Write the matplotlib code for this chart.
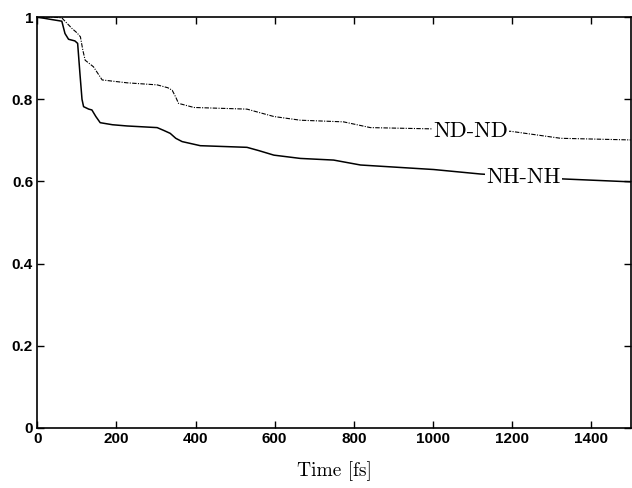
import matplotlib.pyplot as plt
import numpy as np

# NH-NH (solid)
t_nh = [0, 30, 62, 70, 79, 95, 102, 108, 113, 117, 130, 138, 148, 159, 190, 227,
        303, 320, 336, 350, 366, 412, 530, 560, 598, 665, 749, 817, 1002, 1121,
        1331, 1500]
v_nh = [1.0, 0.995, 0.99, 0.96, 0.946, 0.942, 0.936, 0.86, 0.80, 0.782, 0.776,
        0.774, 0.758, 0.743, 0.738, 0.735, 0.731, 0.724, 0.717, 0.705, 0.697,
        0.687, 0.683, 0.675, 0.664, 0.656, 0.652, 0.640, 0.629, 0.618, 0.606,
        0.599]

# ND-ND (dash-dot)
t_nd = [0, 40, 62, 75, 88, 100, 109, 115, 121, 142, 164, 227, 303, 330, 341,
        350, 357, 396, 530, 560, 598, 665, 774, 842, 994, 1197, 1323, 1500]
v_nd = [1.0, 1.0, 0.998, 0.985, 0.972, 0.962, 0.952, 0.92, 0.895, 0.879, 0.847,
        0.840, 0.835, 0.828, 0.822, 0.805, 0.790, 0.780, 0.776, 0.768, 0.758,
        0.749, 0.745, 0.731, 0.728, 0.722, 0.705, 0.701]

xticks = [0, 200, 400, 600, 800, 1000, 1200, 1400]
yticks = [0, 0.2, 0.4, 0.6, 0.8, 1]
ylabels = ['0', '0.2', '0.4', '0.6', '0.8', '1']

fig = plt.figure(figsize=(6.32, 4.88), dpi=100)
ax = fig.add_axes([0.059, 0.123, 0.939, 0.842])

ax.plot(t_nh, v_nh, color='black', linewidth=1.1)
ax.plot(t_nd, v_nd, color='black', linewidth=0.8, linestyle=(0, (4, 1.2, 1, 1.2)))

ax.text(1095, 0.721, 'ND-ND', family='cmr10', fontsize=16, ha='center', va='center',
        bbox=dict(facecolor='white', edgecolor='none', pad=1))
ax.text(1229, 0.611, 'NH-NH', family='cmr10', fontsize=16, ha='center', va='center',
        bbox=dict(facecolor='white', edgecolor='none', pad=1))

ax.set_xlim(0, 1500)
ax.set_ylim(0, 1)
ax.set_xticks(xticks)
ax.set_yticks(yticks)
ax.set_yticklabels(ylabels)
ax.tick_params(direction='in', top=True, right=True, length=5, width=1, pad=3)
for lab in ax.get_xticklabels() + ax.get_yticklabels():
    lab.set_family('Liberation Sans')
    lab.set_fontweight('bold')
    lab.set_fontsize(11)
for spine in ax.spines.values():
    spine.set_linewidth(1.2)

ax.set_xlabel('Time [fs]', family='cmr10', fontsize=14, labelpad=11)

plt.savefig('out.png', dpi=100)
